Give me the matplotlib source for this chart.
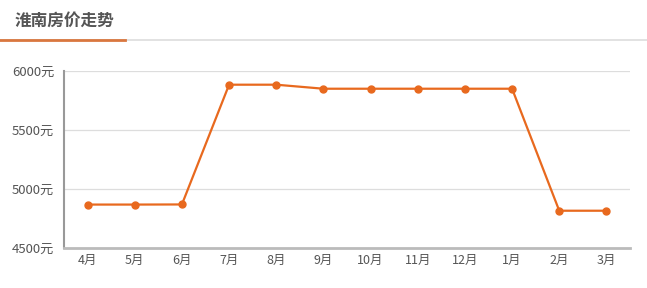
import matplotlib.pyplot as plt
from matplotlib.lines import Line2D

plt.rcParams['font.family'] = ['Noto Sans CJK SC', 'DejaVu Sans']

months = ['4月', '5月', '6月', '7月', '8月', '9月', '10月', '11月', '12月', '1月', '2月', '3月']
prices = [4867, 4867, 4868, 5880, 5880, 5846, 5846, 5846, 5846, 5846, 4815, 4815]
yticks = [4500, 5000, 5500, 6000]
title = '淮南房价走势'

fig = plt.figure(figsize=(6.47, 2.88), dpi=100)

# header with orange underline
fig.text(15 / 647, 1 - 21 / 288, title, fontsize=12, fontweight='bold',
         color='#555555', va='center', ha='left')
fig.add_artist(Line2D([0, 1], [1 - 40 / 288] * 2, color='#dddddd', lw=1.2,
                      transform=fig.transFigure))
fig.add_artist(Line2D([0, 125 / 647], [1 - 40 / 288] * 2, color='#d9773f', lw=2,
                      transform=fig.transFigure))

ax = fig.add_axes([64 / 647, 1 - 248 / 288, (630 - 64) / 647, (248 - 70.5) / 288])
x = list(range(len(months)))
ax.plot(x, prices, color='#e8691e', lw=1.6, marker='o', markersize=5,
        zorder=3, clip_on=False)

ax.set_xlim(-0.5, len(months) - 0.5)
ax.set_ylim(4500, 6000)
ax.set_yticks(yticks)
ax.set_yticklabels([f'{v}元' for v in yticks])
ax.set_xticks(x)
ax.set_xticklabels(months)
ax.tick_params(axis='y', length=0, labelsize=9.5, colors='#555555', pad=7)
ax.tick_params(axis='x', length=0, labelsize=9, colors='#555555', pad=4)

for v in yticks[1:]:
    ax.axhline(v, color='#dddddd', lw=0.9, zorder=1)

for s in ['top', 'right']:
    ax.spines[s].set_visible(False)
ax.spines['left'].set_color('#999999')
ax.spines['left'].set_linewidth(1.5)
ax.spines['bottom'].set_color('#bbbbbb')
ax.spines['bottom'].set_linewidth(2)

fig.savefig('out.png', dpi=100)
